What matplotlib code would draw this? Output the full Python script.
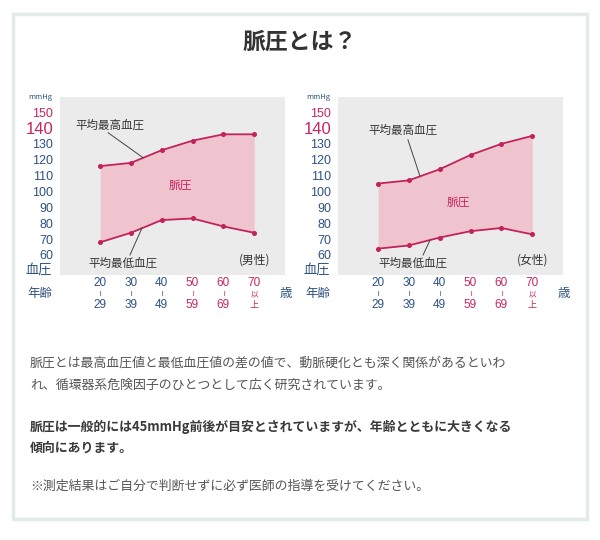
import matplotlib
matplotlib.use("Agg")
import matplotlib.pyplot as plt
from matplotlib.patches import Rectangle
import matplotlib.transforms as mtransforms

plt.rcParams['font.family'] = ['Noto Sans CJK JP', 'DejaVu Sans']

# ---- data ----
age_top = ["20", "30", "40", "50", "60", "70"]
age_mid = ["≀", "≀", "≀", "≀", "≀", "以"]
age_bottom = ["29", "39", "49", "59", "69", "上"]
male_high = [116, 118, 126, 132, 136, 136]
male_low = [68, 74, 82, 83, 78, 74]
female_high = [105, 107, 114, 123, 130, 135]
female_low = [64, 66, 71, 75, 77, 73]
y_ticks = [60, 70, 80, 90, 100, 110, 120, 130, 140, 150]

title = "脈圧とは？"
body_lines = [
    ("脈圧とは最高血圧値と最低血圧値の差の値で、動脈硬化とも深く関係があるといわ", "normal", 363),
    ("れ、循環器系危険因子のひとつとして広く研究されています。", "normal", 385),
    ("脈圧は一般的には45mmHg前後が目安とされていますが、年齢とともに大きくなる", "bold", 427),
    ("傾向にあります。", "bold", 448),
    ("※測定結果はご自分で判断せずに必ず医師の指導を受けてください。", "normal", 486),
]

BLUE = "#2e5283"
CRIMSON = "#c8255f"
LINE = "#c2235a"
FILL = "#efc4cf"
BG = "#ebebeb"
DARK = "#333333"

W, H = 600, 540
fig = plt.figure(figsize=(6, 5.4), dpi=100)
fig.patch.set_facecolor("white")

# outer border
fig.patches.append(Rectangle((13 / W, 1 - 519 / H), 574 / W, 505 / H, transform=fig.transFigure,
                             fill=False, edgecolor="#e3eaea", linewidth=2.5))

fig.text(300 / W, 1 - 42 / H, title, ha="center", va="center", fontsize=16.5,
         fontweight="bold", color="#333333")


def ay(py):
    """pixel row below the plot -> axes fraction"""
    return -(py - 275) / 178


def make_panel(left_px, high, low, sex_label, ann):
    ax = fig.add_axes([left_px / W, 1 - 275 / H, 225 / W, 178 / H])
    ax.set_facecolor(BG)
    x = list(range(len(high)))
    ax.fill_between(x, low, high, color=FILL, linewidth=0)
    for s in (high, low):
        ax.plot(x, s, color=LINE, linewidth=1.3, marker="o", markersize=2.6)
    ax.set_xlim(-1.3, 6.0)
    ax.set_ylim(47.4, 159.5)
    for sp in ax.spines.values():
        sp.set_visible(False)
    ax.set_yticks(y_ticks)
    ax.set_yticklabels([str(v) for v in y_ticks])
    for lab, v in zip(ax.get_yticklabels(), y_ticks):
        lab.set_family(['Liberation Sans', 'DejaVu Sans'])
        if v == 140:
            lab.set_color(CRIMSON)
            lab.set_fontsize(12)
        elif v == 150:
            lab.set_color(CRIMSON)
            lab.set_fontsize(9)
        else:
            lab.set_color(BLUE)
            lab.set_fontsize(9)
    ax.set_xticks(x)
    ax.set_xticklabels([""] * len(x))
    ax.tick_params(length=0)
    ax.tick_params(axis="y", pad=5)

    # x category labels (three stacked parts per category)
    trans = mtransforms.blended_transform_factory(ax.transData, ax.transAxes)
    for i in x:
        c = BLUE if i < 3 else CRIMSON
        ax.text(i, ay(283), age_top[i], transform=trans, ha="center", va="center",
                fontsize=8.5, color=c, family=['Liberation Sans', 'DejaVu Sans'])
        if age_mid[i] == "≀":
            ax.text(i, ay(294), age_mid[i], transform=trans, ha="center", va="center",
                    fontsize=6, color=c, family=['DejaVu Sans'])
        else:
            ax.text(i, ay(294), age_mid[i], transform=trans, ha="center", va="center",
                    fontsize=5.5, color=c)
        if i < 5:
            ax.text(i, ay(305), age_bottom[i], transform=trans, ha="center", va="center",
                    fontsize=8.5, color=c, family=['Liberation Sans', 'DejaVu Sans'])
        else:
            ax.text(i, ay(305), age_bottom[i], transform=trans, ha="center", va="center",
                    fontsize=6.5, color=c)

    # axis captions
    ax.text(-0.035, 1.0, "mmHg", transform=ax.transAxes, ha="right", va="center",
            fontsize=5.5, color=BLUE)
    ax.text(-0.035, 0.03, "血圧", transform=ax.transAxes, ha="right", va="center",
            fontsize=9.5, color=BLUE)
    ax.text(-0.035, ay(294), "年齢", transform=ax.transAxes, ha="right", va="center",
            fontsize=9, color=BLUE)
    ax.text(1.03, ay(294), "歳", transform=ax.transAxes, ha="right", va="center",
            fontsize=9, color=BLUE)

    # annotations
    (hx, hy, hx0, hy0, hx1, hy1), (lx, ly, lx0, ly0, lx1, ly1), (px, py) = ann
    ax.text(hx, hy, "平均最高血圧", ha="center", va="center", fontsize=8.3, color=DARK)
    ax.plot([hx0, hx1], [hy0, hy1], color="#444444", linewidth=0.7)
    ax.text(lx, ly, "平均最低血圧", ha="center", va="center", fontsize=8.3, color=DARK)
    ax.plot([lx0, lx1], [ly0, ly1], color="#444444", linewidth=0.7)
    ax.text(px, py, "脈圧", ha="center", va="center", fontsize=8.5, color=CRIMSON)
    ax.text(5.0, 57.0, sex_label, ha="center", va="center", fontsize=8.5, color=DARK)
    return ax


make_panel(60, male_high, male_low, "(男性)",
           ((0.32, 142.0, 0.26, 137.0, 1.40, 121.2),
            (0.75, 55.0, 0.97, 60.0, 1.36, 77.0),
            (2.6, 104.0)))
make_panel(338, female_high, female_low, "(女性)",
           ((0.81, 138.8, 0.97, 132.5, 1.36, 109.6),
            (1.14, 55.0, 1.46, 60.0, 1.69, 69.5),
            (2.6, 93.4)))

for text, weight, ypx in body_lines:
    fig.text(30 / W, 1 - ypx / H, text, ha="left", va="center", fontsize=9.3,
             fontweight=weight, color="#3a3a3a" if weight == "bold" else "#555555")

fig.savefig("out.png", dpi=100, facecolor="white")
